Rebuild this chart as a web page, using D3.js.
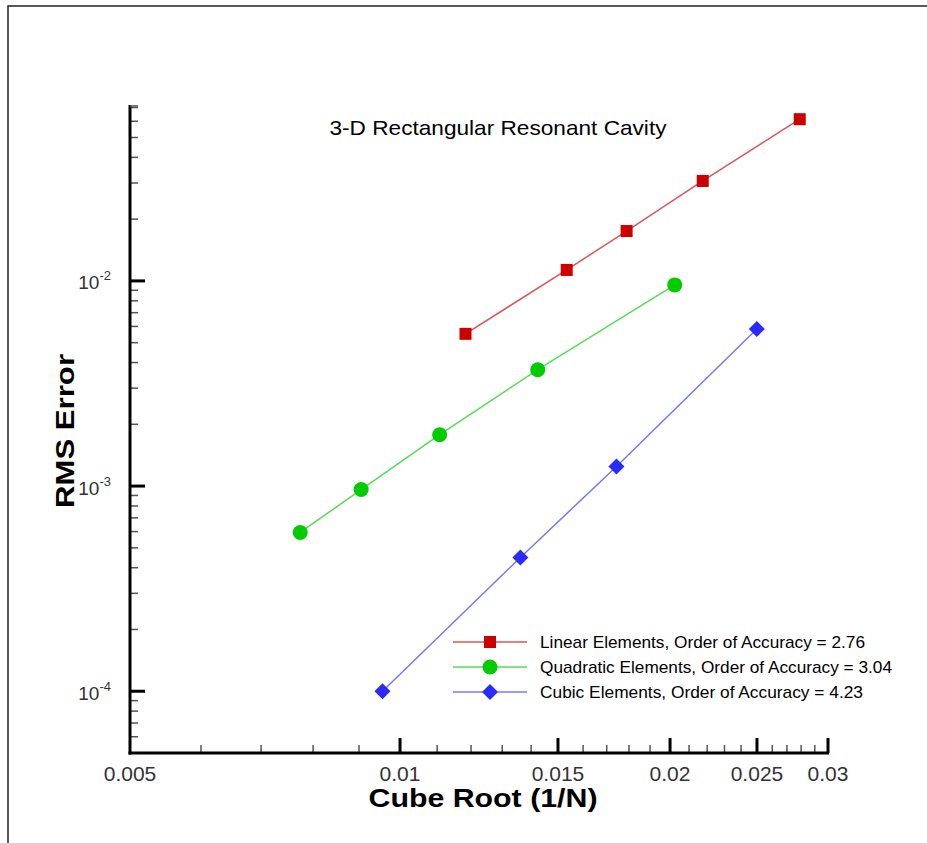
<!DOCTYPE html>
<html>
<head>
<meta charset="utf-8">
<script src="https://cdn.jsdelivr.net/npm/d3@7"></script>
<style>
  body { margin: 0; background: #fff; }
  text { font-family: "Liberation Sans", Arial, sans-serif; }
</style>
</head>
<body>
<svg width="927" height="843"></svg>
<script>
// data (x = cube root of 1/N, y = RMS error)
var linearX = [0.01183, 0.01534, 0.01789, 0.02175, 0.0279];
var linearY = [0.00552, 0.01131, 0.0175, 0.0307, 0.0614];
var quadX = [0.00774, 0.00905, 0.01107, 0.01424, 0.02024];
var quadY = [0.000594, 0.000962, 0.00178, 0.00369, 0.00956];
var cubicX = [0.00956, 0.01362, 0.01743, 0.02499];
var cubicY = [0.0001, 0.000449, 0.001245, 0.00583];
var seriesNames = ["Linear Elements, Order of Accuracy = 2.76",
                   "Quadratic Elements, Order of Accuracy = 3.04",
                   "Cubic Elements, Order of Accuracy = 4.23"];
var xTickLabels = ["0.005", "0.01", "0.015", "0.02", "0.025", "0.03"];
var xTickValues = [0.005, 0.01, 0.015, 0.02, 0.025, 0.03];
var yTickExps = [-4, -3, -2];

var svg = d3.select("svg");

//frame around the plot, only top and left edges are in view
svg.append("rect").attr("x", 8).attr("y", 6).attr("width", 1000).attr("height", 1000)
  .attr("fill", "none").attr("stroke", "#222").attr("stroke-width", 1.5);

//scales, both log
var x = d3.scaleLog().domain([0.005, 0.03]).range([130, 828]);
var y = d3.scaleLog().domain([5e-5, 0.0712]).range([753, 106]);

//minor ticks on x
var xMinor = [];
for (var v = 6; v <= 29; v++) {
  if (v % 5 !== 0) xMinor.push(v / 1000);
}
svg.selectAll(".xminor").data(xMinor).enter().append("line")
  .attr("x1", function(d) { return x(d); }).attr("x2", function(d) { return x(d); })
  .attr("y1", 753).attr("y2", 745)
  .attr("stroke", "#555").attr("stroke-width", 1.5);
svg.selectAll(".xmajor").data(xTickValues.slice(1)).enter().append("line")
  .attr("x1", function(d) { return x(d); }).attr("x2", function(d) { return x(d); })
  .attr("y1", 753).attr("y2", 738)
  .attr("stroke", "#000").attr("stroke-width", 3);

//minor ticks on y
var yMinor = [];
[-5, -4, -3, -2].forEach(function(e) {
  for (var k = 2; k <= 9; k++) {
    var val = k * Math.pow(10, e);
    if (val >= 5e-5 && val <= 0.0712) yMinor.push(val);
  }
});
svg.selectAll(".yminor").data(yMinor).enter().append("line")
  .attr("x1", 130).attr("x2", 138)
  .attr("y1", function(d) { return y(d); }).attr("y2", function(d) { return y(d); })
  .attr("stroke", "#555").attr("stroke-width", 1.5);
svg.selectAll(".ymajor").data(yTickExps).enter().append("line")
  .attr("x1", 130).attr("x2", 145)
  .attr("y1", function(d) { return y(Math.pow(10, d)); }).attr("y2", function(d) { return y(Math.pow(10, d)); })
  .attr("stroke", "#000").attr("stroke-width", 3);

//axis lines
svg.append("line").attr("x1", 130).attr("x2", 130).attr("y1", 105).attr("y2", 754.5)
  .attr("stroke", "#000").attr("stroke-width", 3);
svg.append("line").attr("x1", 128.5).attr("x2", 829).attr("y1", 753).attr("y2", 753)
  .attr("stroke", "#000").attr("stroke-width", 3);
svg.append("line").attr("x1", 130).attr("x2", 138).attr("y1", 106).attr("y2", 106)
  .attr("stroke", "#555").attr("stroke-width", 1.5);

//tick labels
svg.selectAll(".xlab").data(xTickValues).enter().append("text")
  .attr("x", function(d) { return x(d); }).attr("y", 781)
  .attr("text-anchor", "middle").attr("font-size", 21).attr("fill", "#333")
  .text(function(d, i) { return xTickLabels[i]; });

var ylab = svg.selectAll(".ylab").data(yTickExps).enter().append("text")
  .attr("x", 111).attr("y", function(d) { return y(Math.pow(10, d)) + 8.5; })
  .attr("text-anchor", "end").attr("font-size", 19).attr("fill", "#333");
ylab.append("tspan").text("10");
ylab.append("tspan").attr("dy", -9).attr("font-size", 13).text(function(d) { return d; });

//axis titles (the original font is drawn wide, so stretch to the measured length)
svg.append("text").attr("x", 483).attr("y", 807).attr("text-anchor", "middle")
  .attr("font-size", 25).attr("font-weight", "bold")
  .attr("textLength", 229).attr("lengthAdjust", "spacingAndGlyphs")
  .text("Cube Root (1/N)");
svg.append("text").attr("transform", "translate(74,431) rotate(-90)").attr("text-anchor", "middle")
  .attr("font-size", 26).attr("font-weight", "bold")
  .attr("textLength", 154).attr("lengthAdjust", "spacingAndGlyphs")
  .text("RMS Error");

//title
svg.append("text").attr("x", 498).attr("y", 135).attr("text-anchor", "middle")
  .attr("font-size", 21).attr("textLength", 337).attr("lengthAdjust", "spacingAndGlyphs")
  .text("3-D Rectangular Resonant Cavity");

//series
var series = [
  {xs: linearX, ys: linearY, line: "#e05555", fill: "#cc0000", shape: "square"},
  {xs: quadX, ys: quadY, line: "#55dd55", fill: "#00cc00", shape: "circle"},
  {xs: cubicX, ys: cubicY, line: "#7777ff", fill: "#2a2aff", shape: "diamond"}
];

function drawMarker(g, shape, fill) {
  if (shape === "square") {
    g.append("rect").attr("x", -6).attr("y", -6).attr("width", 12).attr("height", 12).attr("fill", fill);
  } else if (shape === "circle") {
    g.append("circle").attr("r", 7.5).attr("fill", fill);
  } else {
    g.append("path").attr("d", "M0,-8L8,0L0,8L-8,0Z").attr("fill", fill);
  }
}

var line = d3.line().x(function(d) { return x(d[0]); }).y(function(d) { return y(d[1]); });

series.forEach(function(s) {
  var pts = s.xs.map(function(v, i) { return [v, s.ys[i]]; });
  svg.append("path").datum(pts).attr("d", line)
    .attr("fill", "none").attr("stroke", s.line).attr("stroke-width", 1.5);
  svg.selectAll(null).data(pts).enter().append("g")
    .attr("transform", function(d) { return "translate(" + [x(d[0]), y(d[1])] + ")"; })
    .each(function() { drawMarker(d3.select(this), s.shape, s.fill); });
});

//legend
var legendLen = [325, 352, 323];
var legend = svg.selectAll(".leg").data(series).enter().append("g")
  .attr("transform", function(d, i) { return "translate(0," + (642 + i * 25) + ")"; });
legend.append("line").attr("x1", 453).attr("x2", 527).attr("y1", 0).attr("y2", 0)
  .attr("stroke", function(d) { return d.line; }).attr("stroke-width", 1.5);
legend.append("g").attr("transform", "translate(490,0)")
  .each(function(d) { drawMarker(d3.select(this), d.shape, d.fill); });
legend.append("text").attr("x", 540).attr("y", 6).attr("font-size", 15.7)
  .attr("textLength", function(d, i) { return legendLen[i]; }).attr("lengthAdjust", "spacingAndGlyphs")
  .text(function(d, i) { return seriesNames[i]; });
</script>
</body>
</html>
